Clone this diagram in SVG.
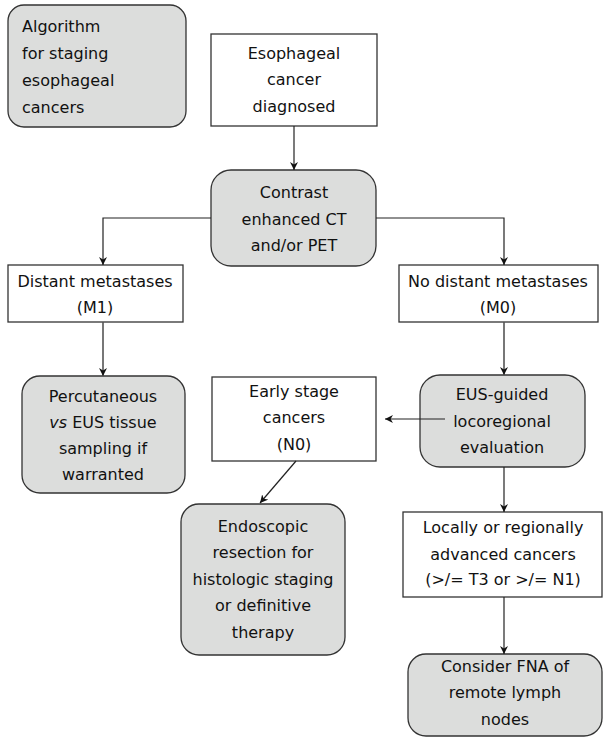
<svg xmlns="http://www.w3.org/2000/svg" width="604" height="737" viewBox="0 0 604 737">
<defs>
<marker id="ah" viewBox="0 0 10 10" refX="10" refY="5" markerWidth="8" markerHeight="8" markerUnits="userSpaceOnUse" orient="auto">
<path d="M0,0 L10,5 L0,10 L3,5 Z" fill="#111"/>
</marker>
<style>
.rb{fill:#dcdddc;stroke:#333;stroke-width:1.3}
.sq{fill:#fff;stroke:#333;stroke-width:1.3}
text{font-family:"DejaVu Sans",Verdana,sans-serif;font-size:16px;fill:#111}
.c{text-anchor:middle}
.ln{fill:none;stroke:#222;stroke-width:1.2;marker-end:url(#ah)}
.lg{fill:none;stroke:#555;stroke-width:1.6;marker-end:url(#ah)}
</style>
</defs>
<rect width="604" height="737" fill="#fff"/>
<g id="title">
<rect class="rb" x="8" y="5" width="178" height="122" rx="16"/>
<text x="22" y="32">Algorithm</text>
<text x="22" y="59">for staging</text>
<text x="22" y="86">esophageal</text>
<text x="22" y="113">cancers</text>
</g>
<g id="diagnosed">
<rect class="sq" x="211" y="34" width="166" height="92"/>
<text class="c" x="294" y="59">Esophageal</text>
<text class="c" x="294" y="85">cancer</text>
<text class="c" x="294" y="112">diagnosed</text>
</g>
<g id="ct">
<rect class="rb" x="211" y="170" width="165" height="96" rx="20"/>
<text class="c" x="294" y="198">Contrast</text>
<text class="c" x="294" y="225">enhanced CT</text>
<text class="c" x="294" y="251">and/or PET</text>
</g>
<g id="m1">
<rect class="sq" x="8" y="265" width="175" height="57"/>
<text class="c" x="95" y="287">Distant metastases</text>
<text class="c" x="95" y="313">(M1)</text>
</g>
<g id="m0">
<rect class="sq" x="399" y="265" width="199" height="57"/>
<text class="c" x="498" y="287">No distant metastases</text>
<text class="c" x="498" y="313">(M0)</text>
</g>
<g id="percutaneous">
<rect class="rb" x="22" y="376" width="163" height="117" rx="18"/>
<text class="c" x="103" y="402">Percutaneous</text>
<text class="c" x="103" y="428"><tspan font-style="italic">vs</tspan> EUS tissue</text>
<text class="c" x="103" y="454">sampling if</text>
<text class="c" x="103" y="480">warranted</text>
</g>
<g id="early">
<rect class="sq" x="212" y="377" width="164" height="84"/>
<text class="c" x="294" y="397">Early stage</text>
<text class="c" x="294" y="423">cancers</text>
<text class="c" x="294" y="450">(N0)</text>
</g>
<g id="eus">
<rect class="rb" x="420" y="375" width="165" height="92" rx="20"/>
<text class="c" x="502" y="400">EUS-guided</text>
<text class="c" x="502" y="427">locoregional</text>
<text class="c" x="502" y="453">evaluation</text>
</g>
<g id="endoscopic">
<rect class="rb" x="181" y="504" width="164" height="151" rx="18"/>
<text class="c" x="263" y="532">Endoscopic</text>
<text class="c" x="263" y="558">resection for</text>
<text class="c" x="263" y="585">histologic staging</text>
<text class="c" x="263" y="611">or definitive</text>
<text class="c" x="263" y="638">therapy</text>
</g>
<g id="advanced">
<rect class="sq" x="403" y="512" width="199" height="85"/>
<text class="c" x="503" y="533">Locally or regionally</text>
<text class="c" x="503" y="560">advanced cancers</text>
<text class="c" x="503" y="585">(&gt;/= T3 or &gt;/= N1)</text>
</g>
<g id="fna">
<rect class="rb" x="408" y="654" width="194" height="82" rx="18"/>
<text class="c" x="505" y="672">Consider FNA of</text>
<text class="c" x="505" y="698">remote lymph</text>
<text class="c" x="505" y="725">nodes</text>
</g>
<g id="connectors">
<path class="ln" d="M294,126 V170"/>
<path class="ln" d="M211,218 H103 V265"/>
<path class="ln" d="M376,218 H504 V265"/>
<path class="lg" d="M103,322 V376"/>
<path class="lg" d="M504,322 V375"/>
<path class="ln" d="M445,419 H385"/>
<path class="ln" d="M296,461 L260,503"/>
<path class="ln" d="M504,467 V512"/>
<path class="ln" d="M504,597 V654"/>
</g>
</svg>
